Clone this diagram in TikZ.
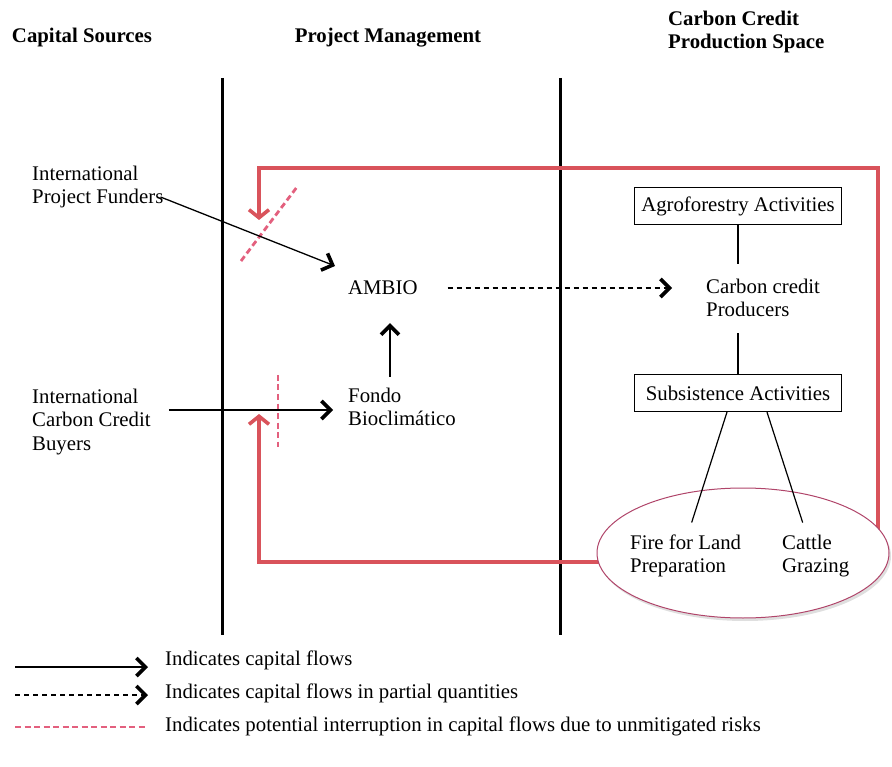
\documentclass[tikz,border=0pt]{standalone}
\usepackage{fontspec}
\setmainfont{Liberation Serif}
\usetikzlibrary{positioning}
\usetikzlibrary{arrows.meta}
\usetikzlibrary{calc}
\usetikzlibrary{shapes.geometric}
\usetikzlibrary{shadows}
\definecolor{flowred}{HTML}{D9535B}
\definecolor{riskpink}{HTML}{E3607E}
\definecolor{riskedge}{HTML}{B0456A}

\begin{document}
\begin{tikzpicture}[x=1pt,y=-1pt,>={Straight Barb[length=9pt,width=18pt,line width=3.6pt]},
                    font=\fontsize{20.8}{23.5}\selectfont,
                    every node/.style={inner sep=0pt,align=left},
                    head/.style={font=\fontsize{20.8}{23.5}\selectfont\bfseries},
                    act box/.style={draw,line width=1.2pt,minimum width=207pt,minimum height=37pt},
                    divider/.style={line width=3pt},
                    flow/.style={->,line width=1.3pt},
                    part flow/.style={->,line width=1.3pt,dash pattern=on 5pt off 4pt},
                    tie/.style={line width=1.2pt},
                    risk loop/.style={->,line width=3.5pt,draw=flowred,
                      >={Straight Barb[length=8pt,width=20pt,line width=3.6pt]}},
                    cut/.style={line width=2.8pt,draw=riskpink,dash pattern=on 6pt off 3.5pt}]
\useasboundingbox (0,0) rectangle (892,767);

% column headers
\node[head] (cap) at (82,38) {Capital Sources};
\node[head] (pm) at (388,38) {Project Management};
\node[head,anchor=west] (ccps) at (668,32) {Carbon Credit\\Production Space};

% column dividers
\draw[divider] (222,78) -- (222,635);
\draw[divider] (560,78) -- (560,635);

% red loop back to project management
\coordinate (loop se) at (878,540);
\coordinate (loop ne) at (878,168);
\coordinate (loop nw) at (259,168);
\coordinate (loop s) at (640,562);
\coordinate (loop sw) at (259,562);
\draw[risk loop] (loop se) -- (loop ne) -- (loop nw) -- ++(0,52);
\draw[risk loop] (loop s) -- (loop sw) -- ++(0,-148);

\draw[cut] (241,261) -- (297,187);
\draw[cut] (278,375) -- (278,447);

% actors
\node[anchor=west] (funders) at (32,187) {International\\Project Funders};
\node[anchor=west] (buyers) at (32,422) {International\\Carbon Credit\\Buyers};
\node[anchor=west] (ambio) at (348,288) {AMBIO};
\node[anchor=west] (fondo) at (348,407) {Fondo\\Bioclimático};
\node[anchor=west] (producers) at (706,298) {Carbon credit\\Producers};
\node[act box] (agro) at (738,206) {Agroforestry Activities};
\node[act box] (subs) at (738,393) {Subsistence Activities};
\node[ellipse,draw=riskedge,fill=white,line width=1pt,minimum width=292pt,minimum height=130pt,
      drop shadow={shadow xshift=2pt,shadow yshift=-3pt,opacity=0.25}] (risk) at (743,553) {};
\node[anchor=west] (fire) at (630,556) {Fire for Land\\Preparation};
\node[anchor=west] (cattle) at (782,556) {Cattle\\Grazing};

% capital flows
\draw[flow] ($(funders.east)+(-3,10)$) -- ($(ambio.west)+(-13,-22)$);
\draw[flow] ($(fondo.west -| buyers.east)+(18,3)$) -- ($(fondo.west)+(-15,3)$);
\draw[flow] ($(fondo.north west)+(42,-11)$) -- ($(ambio.south west)+(42,28)$);
\draw[part flow] ($(ambio.east)+(30,0)$) -- ($(ambio.east -| producers.west)+(-34,0)$);

% activities
\draw[tie] (agro.south) -- ($(agro.south |- producers.north)+(0,-15)$);
\draw[tie] ($(subs.north |- producers.south)+(0,16)$) -- (subs.north);
\draw[tie] ($(subs.south)+(-11,0)$) -- ($(fire.north)+(6,-12)$);
\draw[tie] ($(subs.south)+(29,0)$) -- ($(cattle.north)+(-13,-12)$);

% legend
\node[anchor=base west] (leg solid) at (165,665) {Indicates capital flows};
\node[anchor=base west] (leg part) at (165,698) {Indicates capital flows in partial quantities};
\node[anchor=base west] (leg cut) at (165,731) {Indicates potential interruption in capital flows due to unmitigated risks};
\draw[flow] ($(leg solid.base west)+(-150,2)$) -- ($(leg solid.base west)+(-17,2)$);
\draw[part flow] ($(leg part.base west)+(-150,-3)$) -- ($(leg part.base west)+(-17,-3)$);
\draw[cut] ($(leg cut.base west)+(-150,-4)$) -- ($(leg cut.base west)+(-17,-4)$);

\end{tikzpicture}
\end{document}
